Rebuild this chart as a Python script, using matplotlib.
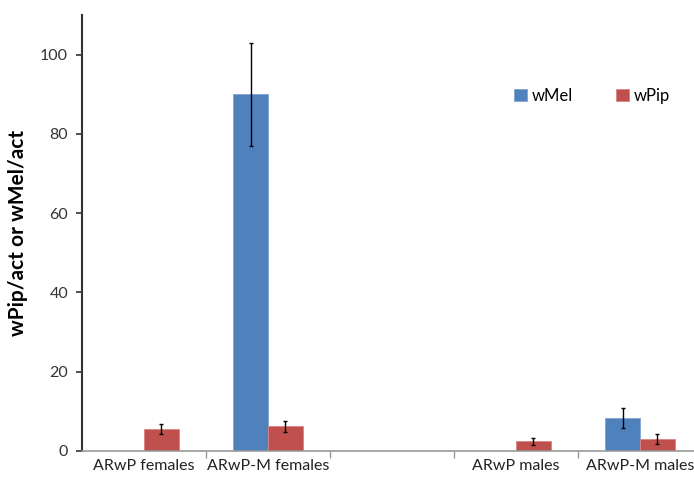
import numpy as np
import matplotlib
matplotlib.use("Agg")
import matplotlib.pyplot as plt

# datos
categories = ["ARwP females", "ARwP-M females", "", "ARwP males", "ARwP-M males"]
wmel = [np.nan, 90.0, np.nan, np.nan, 8.3]
wmel_err = [np.nan, 13.0, np.nan, np.nan, 2.5]
wpip = [5.5, 6.2, np.nan, 2.4, 3.0]
wpip_err = [1.2, 1.3, np.nan, 0.8, 1.2]

plt.rcParams["font.family"] = ["Lato", "DejaVu Sans"]

fig = plt.figure(figsize=(6.94, 4.8), dpi=100)
ax = fig.add_axes([82 / 694, 29 / 480, 620 / 694, 436 / 480])

x = np.arange(len(categories))
w = 0.28
ekw = dict(ecolor="black", elinewidth=1.0, capsize=1.5, capthick=1.0)

ax.bar(x - w / 2, wmel, w, color="#4F81BD", edgecolor="#7FA3D3", linewidth=0.6,
       yerr=wmel_err, error_kw=ekw, label="wMel")
ax.bar(x + w / 2, wpip, w, color="#C0504D", edgecolor="#D88583", linewidth=0.6,
       yerr=wpip_err, error_kw=ekw, label="wPip")

ax.set_xlim(-0.5, len(categories) - 0.5)
ax.set_ylim(0, 110)
ax.set_yticks(range(0, 101, 20))
ax.tick_params(axis="y", labelsize=11.5, labelcolor="#333333", length=4,
               width=1.2, color="#333333", pad=6)

# categorias
ax.set_xticks(x)
ax.set_xticklabels(categories, fontsize=11.5, color="#222222")
ax.tick_params(axis="x", length=0, pad=6)
ax.set_xticks(np.arange(0.5, len(categories) - 0.5, 1), minor=True)
ax.tick_params(axis="x", which="minor", length=5, color="#999999", width=1)

ax.spines["top"].set_visible(False)
ax.spines["right"].set_visible(False)
ax.spines["left"].set_color("#333333")
ax.spines["left"].set_linewidth(1.5)
ax.spines["bottom"].set_color("#999999")
ax.spines["bottom"].set_linewidth(1.2)

ax.set_ylabel("wPip/act or wMel/act", fontsize=15, fontweight="bold", labelpad=9)

fig.legend(loc="center", bbox_to_anchor=(592 / 694, 1 - 96 / 480), ncol=2,
           frameon=False, fontsize=12, handlelength=0.75, handleheight=0.75,
           handletextpad=0.3, columnspacing=2.6)

fig.savefig("out.png", dpi=100)
plt.close(fig)
